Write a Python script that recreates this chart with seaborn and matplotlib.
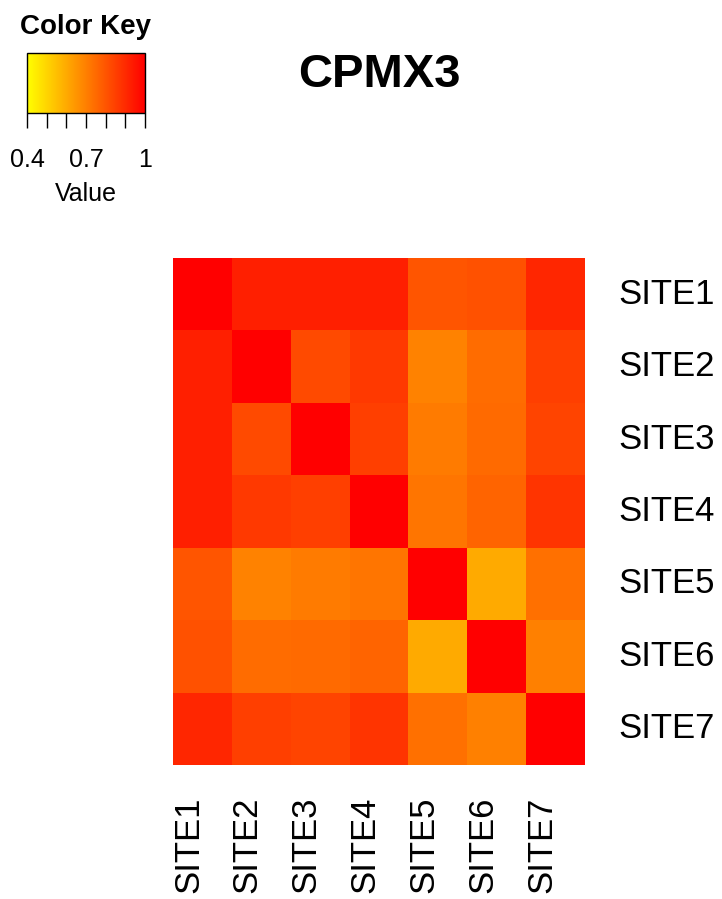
import numpy as np
import pandas as pd
import matplotlib
matplotlib.use("Agg")
import matplotlib.pyplot as plt
import matplotlib.transforms as mtransforms
from matplotlib.colors import LinearSegmentedColormap
import seaborn as sns

sites = ["SITE1", "SITE2", "SITE3", "SITE4", "SITE5", "SITE6", "SITE7"]

# correlation values (key runs 0.4 yellow -> 1 red)
site1 = [1.00, 0.925, 0.925, 0.925, 0.80, 0.81, 0.91]
site2 = [0.925, 1.00, 0.826, 0.866, 0.695, 0.745, 0.85]
site3 = [0.925, 0.826, 1.00, 0.85, 0.71, 0.75, 0.84]
site4 = [0.925, 0.866, 0.85, 1.00, 0.725, 0.765, 0.878]
site5 = [0.80, 0.695, 0.71, 0.725, 1.00, 0.60, 0.736]
site6 = [0.81, 0.745, 0.75, 0.765, 0.60, 1.00, 0.70]
site7 = [0.91, 0.85, 0.84, 0.878, 0.736, 0.70, 1.00]

key_ticks = [0.4, 0.5, 0.6, 0.7, 0.8, 0.9, 1.0]
key_labels = ["0.4", "", "", "0.7", "", "", "1"]

df = pd.DataFrame([site1, site2, site3, site4, site5, site6, site7],
                  index=sites, columns=sites)

sns.set_style("white")
plt.rcParams["font.family"] = ["Liberation Sans", "DejaVu Sans"]
plt.rcParams["text.color"] = "black"
plt.rcParams["xtick.color"] = "black"
plt.rcParams["ytick.color"] = "black"

cmap = LinearSegmentedColormap.from_list("heat_rev", ["#FFFF00", "#FF0000"], N=256)

fig = plt.figure(figsize=(7.22, 8.99), dpi=100)
ax = fig.add_axes([0.2396, 0.1490, 0.5706, 0.5640])
key_ax = fig.add_axes([0.0374, 0.8743, 0.1634, 0.0667])

sns.heatmap(df, ax=ax, cmap=cmap, vmin=0.4, vmax=1.0, cbar=True, cbar_ax=key_ax,
            cbar_kws={"orientation": "horizontal"}, square=False, linewidths=0)

# labels: rows on the right, columns rotated at the bottom
ax.yaxis.tick_right()
ax.set_yticklabels(sites, rotation=0, fontsize=25, va="center", color="black")
ax.set_xticklabels(sites, rotation=90, fontsize=25, va="top", color="black")
ax.tick_params(axis="both", length=0)
ax.tick_params(axis="y", pad=24)
ax.tick_params(axis="x", pad=23)
ax.set_xlabel("")
ax.set_ylabel("")
shift = mtransforms.ScaledTranslation(-14 / 100, 0, fig.dpi_scale_trans)
for lab in ax.get_xticklabels():
    lab.set_transform(lab.get_transform() + shift)

# color key
cb = ax.collections[0].colorbar
cb.set_ticks(key_ticks)
cb.set_ticklabels(key_labels)
cb.outline.set_edgecolor("black")
cb.outline.set_linewidth(1.0)
key_ax.tick_params(axis="x", direction="out", length=11, width=1.0,
                   labelsize=18, pad=14, colors="black", bottom=True)
fig.text(86 / 722, 1 - 26.5 / 899, "Color Key", ha="center", va="center",
         fontsize=20, fontweight="bold")
fig.text(86 / 722, 1 - 194 / 899, "Value", ha="center", va="center", fontsize=18)

fig.text(379 / 722, 1 - 75 / 899, "CPMX3", ha="center", va="center",
         fontsize=34, fontweight="bold")

fig.savefig("out.png", dpi=100)
